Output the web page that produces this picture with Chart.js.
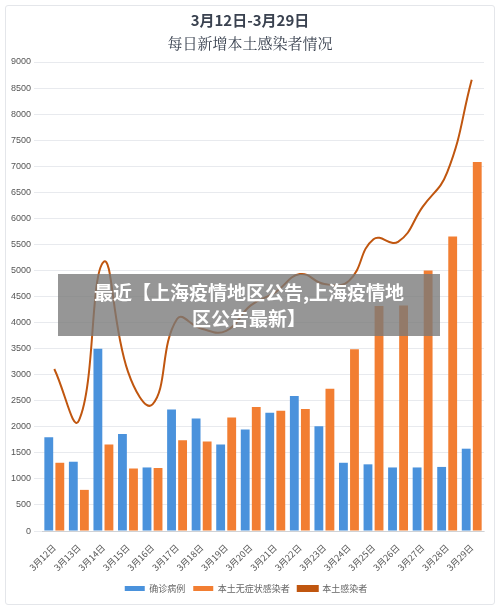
<!DOCTYPE html>
<html><head><meta charset="utf-8">
<script src="https://cdn.jsdelivr.net/npm/chart.js@4"></script>
<style>
body{margin:0;background:#fff;font-family:"Noto Sans CJK SC",sans-serif}
#box{position:absolute;left:5px;top:5px;width:488px;height:598px;border:1px solid #e4e6ea;border-radius:3px}
#wrap{position:absolute;left:0;top:0;width:500px;height:611px}
#t1{position:absolute;top:9px;width:500px;text-align:center;font-weight:bold;font-size:15px;color:#3a4250}
#t2{position:absolute;top:32px;width:500px;text-align:center;font-size:15px;color:#3a4250;font-family:"Noto Serif CJK SC","Noto Sans CJK SC",serif}
#banner{position:absolute;left:58px;top:274px;width:382px;height:62px;background:rgba(120,120,120,0.78);color:#fff;font-weight:bold;font-size:19px;line-height:26px;text-align:center;padding-top:5px;box-sizing:border-box}
</style></head><body>
<div id="box"></div>
<div id="wrap"><canvas id="c" width="500" height="611"></canvas></div>
<div id="t1">3月12日-3月29日</div><div id="t2">每日新增本土感染者情况</div>
<div id="banner">最近【上海疫情地区公告,上海疫情地<br>区公告最新】</div>
<script>
const categories=["3月12日","3月13日","3月14日","3月15日","3月16日","3月17日","3月18日","3月19日","3月20日","3月21日","3月22日","3月23日","3月24日","3月25日","3月26日","3月27日","3月28日","3月29日"];
const confirmed=[1800,1330,3500,1860,1220,2330,2160,1660,1950,2270,2590,2010,1310,1280,1220,1220,1230,1580];
const asymptomatic=[1310,790,1660,1200,1210,1740,1720,2180,2380,2310,2340,2730,3490,4320,4330,5000,5650,7080];
const total=[3110,2120,5160,3060,2430,4070,3880,3840,4330,4580,4930,4740,4800,5600,5550,6220,6880,8660];
new Chart(document.getElementById('c'),{
data:{labels:categories,datasets:[
{type:'bar',label:'确诊病例',data:confirmed,backgroundColor:'#4a92dc',barPercentage:0.8,categoryPercentage:0.9,order:1},
{type:'bar',label:'本土无症状感染者',data:asymptomatic,backgroundColor:'#f27e32',barPercentage:0.8,categoryPercentage:0.9,order:1},
{type:'line',label:'本土感染者',data:total,borderColor:'#c0560f',backgroundColor:'#c0560f',borderWidth:2,pointRadius:0,tension:0.45,order:0}
]},
options:{responsive:false,animation:false,
layout:{padding:{left:8,right:16,top:62,bottom:8}},
plugins:{legend:{position:'bottom',labels:{sort:(a,b)=>a.datasetIndex-b.datasetIndex,boxWidth:20,boxHeight:5,color:'#666',font:{size:9,family:'"Noto Sans CJK SC"'},padding:8}},tooltip:{enabled:false}},
scales:{x:{grid:{display:false},ticks:{maxRotation:45,minRotation:45,color:'#555',font:{size:9,family:'"Noto Sans CJK SC"'}}},
y:{min:0,max:9000,ticks:{stepSize:500,color:'#555',font:{size:9},callback:v=>String(v)},grid:{color:'#e8eaee'},border:{display:false}}}}
});
</script></body></html>
